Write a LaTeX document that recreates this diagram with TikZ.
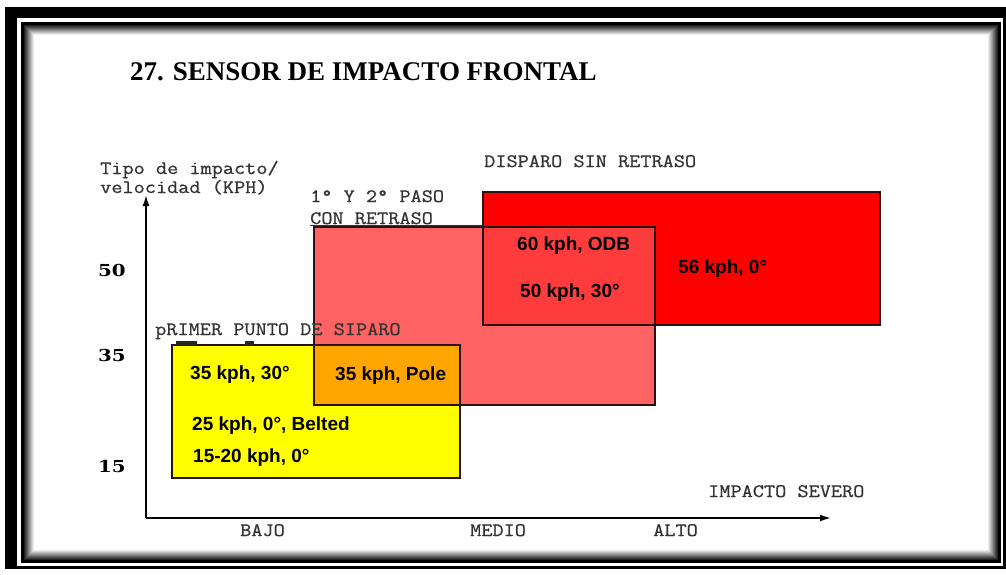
\documentclass[tikz,border=0pt]{standalone}
\usepackage{fontspec}
\setmainfont{Liberation Serif}
\newfontfamily\monof{Latin Modern Mono}[FakeStretch=1.14, FakeBold=0.7]
\newfontfamily\sansf{Liberation Sans}
\newfontfamily\numf{DejaVu Serif}[FakeStretch=1.2]
\usetikzlibrary{arrows.meta}
\definecolor{redbox}{HTML}{FF0000}
\definecolor{pinkbox}{HTML}{FF6363}
\definecolor{redpink}{HTML}{FF3C3C}
\definecolor{yellowbox}{HTML}{FFFF00}
\definecolor{orangebox}{HTML}{FFA500}
\definecolor{edgec}{HTML}{2A1010}
\tikzset{
  mono/.style={font=\monof\fontsize{19}{19}\selectfont, text=black!80, inner sep=0pt, anchor=base west},
  boxtxt/.style={font=\sansf\bfseries\fontsize{19}{19}\selectfont, text=black, inner sep=0pt, anchor=base west},
  numtxt/.style={font=\numf\bfseries\fontsize{16.5}{16.5}\selectfont, text=black, inner sep=0pt, anchor=base west},
  boxedge/.style={draw=edgec, line width=1.1pt},
  axisline/.style={draw=black, line width=1.8pt, -{Latex[length=11pt,width=7pt]}}
}
\begin{document}
\begin{tikzpicture}[x=1pt,y=-1pt]
\useasboundingbox (0,0) rectangle (1006,574);
\fill[white] (0,0) rectangle (1006,574);
% frame
\fill[black] (5,7) rectangle (1006,569);
\fill[white] (17,18) rectangle (1003,566);
\fill[black] (21,22) rectangle (1001,563);
\foreach \i [evaluate=\i as \c using 88-\i*9] in {0,...,9}
  {\fill[black!\c] (24+\i,25+\i) rectangle (998-\i,560-\i);}
\fill[white] (34,35) rectangle (988,550);

% title
\node[font=\bfseries\fontsize{27}{27}\selectfont, inner sep=0pt, anchor=base west] (title) at (130,80) {27. SENSOR DE IMPACTO FRONTAL};

% box corners
\coordinate (R1) at (483,192); \coordinate (R2) at (880,325);
\coordinate (P1) at (314,227); \coordinate (P2) at (655,405);
\coordinate (Y1) at (172,345); \coordinate (Y2) at (460,478);
% fills
\fill[redbox] (R1) rectangle (R2);
\fill[pinkbox] (P1) rectangle (P2);
\fill[redpink] (483,227) rectangle (655,325);
\fill[yellowbox] (Y1) rectangle (Y2);
\fill[orangebox] (314,345) rectangle (460,405);
% edges
\draw[boxedge] (R1) rectangle (R2);
\draw[boxedge] (P1) rectangle (P2);
\draw[boxedge] (Y1) rectangle (Y2);

% small marks
\fill[black!85] (176,341) rectangle (197,345);
\fill[black!85] (245,341) rectangle (254,345);

% axes
\coordinate (O) at (146,518);
\coordinate (ytip) at (146,195);
\coordinate (xtip) at (831,518);
\draw[axisline] (O) -- (ytip);
\draw[axisline] (O) -- (xtip);
\draw[line width=2.6pt] (O) -- (345,518);

% axis texts
\node[mono] (tipo) at (100,174) {Tipo de impacto/};
\node[mono] (vel) at (100,193) {velocidad (KPH)};
\node[mono] (paso) at (310,202) {1° Y 2° PASO};
\node[mono] (con) at (310,224) {CON RETRASO};
\coordinate (conend) at (483,225.5);
\draw[black!80, line width=1pt] (con.base west |- conend) -- (conend);
\node[mono] (disp) at (484,167) {DISPARO SIN RETRASO};
\node[mono] (prim) at (155,335) {pRIMER PUNTO DE SIPARO};
\node[mono] (sev) at (708,497) {IMPACTO SEVERO};
\node[mono] (bajo) at (240,536) {BAJO};
\node[mono] (medio) at (470,536) {MEDIO};
\node[mono] (alto) at (653,536) {ALTO};

% numbers
\node[numtxt] (n50) at (98,276) {50};
\node[numtxt] (n35) at (98,361) {35};
\node[numtxt] (n15) at (98,472) {15};

% box texts
\node[boxtxt] (t60) at (517,250) {60 kph, ODB};
\node[boxtxt] (t50) at (520,297) {50 kph, 30°};
\node[boxtxt] (t56) at (678,273) {56 kph, 0°};
\node[boxtxt] (t35a) at (190,379) {35 kph, 30°};
\node[boxtxt] (t35p) at (335,380) {35 kph, Pole};
\node[boxtxt] (t25) at (192,430) {25 kph, 0°, Belted};
\node[boxtxt] (t15) at (193,462) {15-20 kph, 0°};
\end{tikzpicture}
\end{document}
